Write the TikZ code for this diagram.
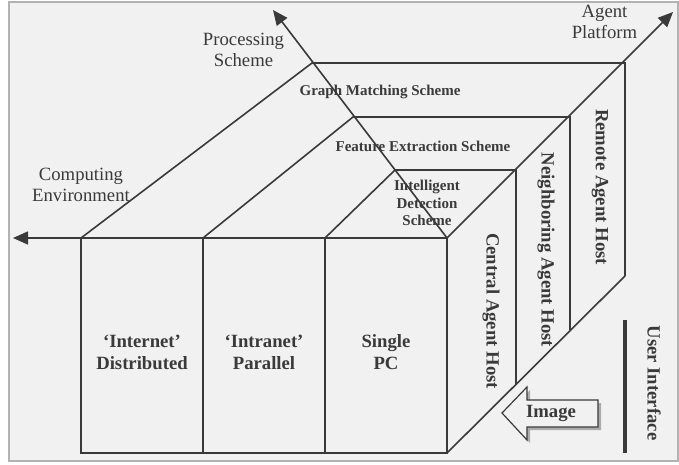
\documentclass[tikz,border=0pt]{standalone}
\usepackage{fontspec}
\setmainfont{Liberation Serif}
\usetikzlibrary{arrows.meta}
\definecolor{ink}{HTML}{3A3A3A}
\definecolor{paper}{HTML}{F1F1F1}
\tikzset{
  edgeline/.style={draw=ink, line width=1.6pt},
  axis/.style={edgeline, -{Triangle[length=15pt, width=13pt]}},
  axislabel/.style={text=ink, align=center, font=\fontsize{18.7}{21.5}\selectfont},
  facelabel/.style={text=ink, align=center, font=\fontsize{18.7}{22}\selectfont\bfseries},
  schemelabel/.style={text=ink, align=center, font=\fontsize{15}{17.5}\selectfont\bfseries},
  hostlabel/.style={facelabel, rotate=-90}
}

\begin{document}
\begin{tikzpicture}[x=1pt, y=-1pt]
\useasboundingbox (0,0) rectangle (679,465);
\draw[gray!60, line width=1.5pt, fill=paper] (9,2) rectangle (678,461);

% corners of the box
\coordinate (o) at (447,238);
\coordinate (b) at (447,453);
\coordinate (f1) at (325,238);
\coordinate (f2) at (203,238);
\coordinate (f3) at (81,238);
\coordinate (g1) at (325,453);
\coordinate (g2) at (203,453);
\coordinate (g3) at (81,453);
\coordinate (p1) at (395,170);
\coordinate (q1) at (516,170);
\coordinate (r1) at (516,384);
\coordinate (p2) at (353,117);
\coordinate (q2) at (570,117);
\coordinate (r2) at (570,330);
\coordinate (p3) at (312,63);
\coordinate (q3) at (625,63);
\coordinate (r3) at (625,276);
% axis ends
\coordinate (ce) at (13,238);
\coordinate (pe) at (273,10);
\coordinate (ae) at (673,12);
\coordinate (ut) at (625,320);
\coordinate (ub) at (625,453);

\node[axislabel] (comp) at (81,185) {Computing\\Environment};
\node[axislabel] (proc) at (243.5,50) {Processing\\Scheme};
\node[axislabel] (plat) at (604.5,22) {Agent\\Platform};

\node[schemelabel] (graph) at (380,92) {Graph Matching Scheme};
\node[schemelabel] (feat) at (423,146) {Feature Extraction Scheme};
\node[schemelabel] (intel) at (427,203) {Intelligent\\Detection\\Scheme};

\node[facelabel] (inet) at (142,352) {‘Internet’\\Distributed};
\node[facelabel] (intra) at (264,352) {‘Intranet’\\Parallel};
\node[facelabel] (pc) at (386,352) {Single\\PC};

\node[hostlabel] (remote) at (600,187) {Remote Agent Host};
\node[hostlabel] (neigh) at (546,250) {Neighboring Agent Host};
\node[hostlabel] (central) at (491,311) {Central Agent Host};
\node[hostlabel] (ui) at (654,383) {User Interface};

% front face
\draw[edgeline] (f3) -- (g3) -- (b) -- (o);
\draw[edgeline] (f2) -- (g2);
\draw[edgeline] (f1) -- (g1);
% scheme layers
\draw[edgeline] (f1) -- (p1) -- (q1) -- (r1);
\draw[edgeline] (f2) -- (p2) -- (q2) -- (r2);
\draw[edgeline] (f3) -- (p3) -- (q3) -- (r3);
\draw[edgeline] (b) -- (r3);

\draw[axis] (o) -- (ce);
\draw[axis] (o) -- (pe);
\draw[axis] (o) -- (ae);

\draw[ink, line width=4.5pt] (ut) -- (ub);

% image arrow
\fill[gray!65, shift={(3,3)}] (502,413) -- (527,387) -- (527,400) -- (598,400)
  -- (598,427) -- (527,427) -- (527,440) -- cycle;
\draw[ink, line width=1.2pt, fill=paper] (502,413) -- (527,387) -- (527,400) -- (598,400)
  -- (598,427) -- (527,427) -- (527,440) -- cycle;
\node[facelabel] (img) at (551,413) {Image};
\end{tikzpicture}
\end{document}
